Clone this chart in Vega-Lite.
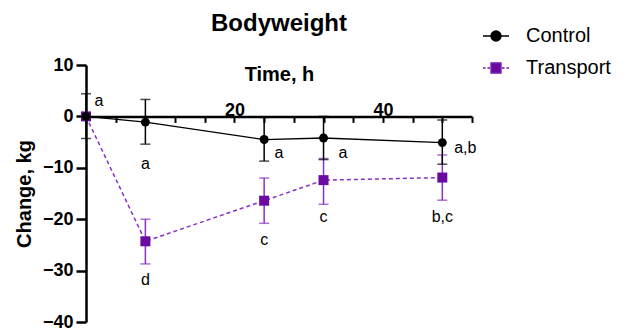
{
  "$schema": "https://vega.github.io/schema/vega-lite/v6.json",
  "width": 386,
  "height": 257,
  "autosize": {"type": "none"},
  "padding": {"left": 86, "top": 65, "right": 158, "bottom": 9},
  "config": {"view": {"stroke": null}, "font": "Liberation Sans"},
  "title": {"text": "Bodyweight", "fontSize": 24, "fontWeight": "bold", "color": "#000000", "anchor": "middle", "offset": -14},
  "datasets": {
    "series": [
      {"group": "Control", "time": 0, "mean": 0, "lo": -4.3, "hi": 4.4},
      {"group": "Control", "time": 8, "mean": -1.1, "lo": -5.4, "hi": 3.3},
      {"group": "Control", "time": 24, "mean": -4.5, "lo": -8.7, "hi": -0.2},
      {"group": "Control", "time": 32, "mean": -4.2, "lo": -8.4, "hi": 0.0},
      {"group": "Control", "time": 48, "mean": -5.1, "lo": -9.3, "hi": -0.7},
      {"group": "Transport", "time": 0, "mean": 0, "lo": 0, "hi": 0},
      {"group": "Transport", "time": 8, "mean": -24.3, "lo": -28.7, "hi": -20.0},
      {"group": "Transport", "time": 24, "mean": -16.4, "lo": -20.8, "hi": -12.0},
      {"group": "Transport", "time": 32, "mean": -12.4, "lo": -17.1, "hi": -8.2},
      {"group": "Transport", "time": 48, "mean": -11.9, "lo": -16.3, "hi": -7.5}
    ],
    "labels": [
      {"time": 1.75, "value": 2.9, "label": "a"},
      {"time": 8, "value": -9.3, "label": "a"},
      {"time": 26.0, "value": -7.1, "label": "a"},
      {"time": 34.6, "value": -7.1, "label": "a"},
      {"time": 51.1, "value": -6.2, "label": "a,b"},
      {"time": 8, "value": -31.9, "label": "d"},
      {"time": 24, "value": -24.1, "label": "c"},
      {"time": 32, "value": -19.6, "label": "c"},
      {"time": 48, "value": -19.6, "label": "b,c"}
    ]
  },
  "encoding": {
    "x": {
      "field": "time", "type": "quantitative", "title": "Time, h",
      "scale": {"domain": [0, 52], "nice": false, "zero": false},
      "axis": {
        "orient": "top", "offset": -51.4, "title": "Time, h",
        "values": [0, 4, 8, 12, 16, 20, 24, 28, 32, 36, 40, 44, 48, 52],
        "labelExpr": "datum.value == 20 || datum.value == 40 ? datum.label : ''",
        "labelOverlap": false, "labelBound": false, "labelFlush": false,
        "grid": false, "domainColor": "#000000", "domainWidth": 2.5,
        "tickColor": "#000000", "tickWidth": 2, "tickSize": -6,
        "labelFontSize": 18, "labelFontWeight": "bold", "labelColor": "#000000", "labelPadding": 3,
        "titleFontSize": 20, "titleFontWeight": "bold", "titleColor": "#000000", "titlePadding": 17
      }
    },
    "y": {
      "field": "mean", "type": "quantitative", "title": "Change, kg",
      "scale": {"domain": [-40, 10], "nice": false, "zero": false},
      "axis": {
        "title": "Change, kg",
        "values": [-40, -30, -20, -10, 0, 10],
        "labelOverlap": false, "labelBound": false, "labelFlush": false,
        "grid": false, "domainColor": "#000000", "domainWidth": 2.5,
        "tickColor": "#000000", "tickWidth": 2.5, "tickSize": 10,
        "labelFontSize": 18, "labelFontWeight": "bold", "labelColor": "#000000", "labelPadding": 3,
        "titleFontSize": 20, "titleFontWeight": "bold", "titleColor": "#000000", "titlePadding": 8
      }
    }
  },
  "layer": [
    {
      "data": {"name": "series"},
      "transform": [{"filter": "datum.group === 'Transport'"}],
      "mark": {"type": "line", "color": "#8a2fc7", "strokeWidth": 1.5, "strokeDash": [4, 3]}
    },
    {
      "data": {"name": "series"},
      "transform": [{"filter": "datum.group === 'Transport' && datum.hi > datum.lo"}],
      "mark": {"type": "rule", "color": "#8a2fc7", "strokeWidth": 1.5},
      "encoding": {
        "y": {
          "field": "lo", "type": "quantitative", "title": "Change, kg",
          "scale": {"domain": [-40, 10], "nice": false, "zero": false},
          "axis": {
            "title": "Change, kg",
            "values": [-40, -30, -20, -10, 0, 10],
            "labelOverlap": false, "labelBound": false, "labelFlush": false,
            "grid": false, "domainColor": "#000000", "domainWidth": 2.5,
            "tickColor": "#000000", "tickWidth": 2.5, "tickSize": 10,
            "labelFontSize": 18, "labelFontWeight": "bold", "labelColor": "#000000", "labelPadding": 3,
            "titleFontSize": 20, "titleFontWeight": "bold", "titleColor": "#000000", "titlePadding": 8
          }
        },
        "y2": {"field": "hi"}
      }
    },
    {
      "data": {"name": "series"},
      "transform": [{"filter": "datum.group === 'Transport' && datum.hi > datum.lo"}],
      "mark": {"type": "tick", "orient": "horizontal", "color": "#8a2fc7", "size": 10, "thickness": 1.5},
      "encoding": {
        "y": {
          "field": "lo", "type": "quantitative", "title": "Change, kg",
          "scale": {"domain": [-40, 10], "nice": false, "zero": false},
          "axis": {
            "title": "Change, kg",
            "values": [-40, -30, -20, -10, 0, 10],
            "labelOverlap": false, "labelBound": false, "labelFlush": false,
            "grid": false, "domainColor": "#000000", "domainWidth": 2.5,
            "tickColor": "#000000", "tickWidth": 2.5, "tickSize": 10,
            "labelFontSize": 18, "labelFontWeight": "bold", "labelColor": "#000000", "labelPadding": 3,
            "titleFontSize": 20, "titleFontWeight": "bold", "titleColor": "#000000", "titlePadding": 8
          }
        }
      }
    },
    {
      "data": {"name": "series"},
      "transform": [{"filter": "datum.group === 'Transport' && datum.hi > datum.lo"}],
      "mark": {"type": "tick", "orient": "horizontal", "color": "#8a2fc7", "size": 10, "thickness": 1.5},
      "encoding": {
        "y": {
          "field": "hi", "type": "quantitative", "title": "Change, kg",
          "scale": {"domain": [-40, 10], "nice": false, "zero": false},
          "axis": {
            "title": "Change, kg",
            "values": [-40, -30, -20, -10, 0, 10],
            "labelOverlap": false, "labelBound": false, "labelFlush": false,
            "grid": false, "domainColor": "#000000", "domainWidth": 2.5,
            "tickColor": "#000000", "tickWidth": 2.5, "tickSize": 10,
            "labelFontSize": 18, "labelFontWeight": "bold", "labelColor": "#000000", "labelPadding": 3,
            "titleFontSize": 20, "titleFontWeight": "bold", "titleColor": "#000000", "titlePadding": 8
          }
        }
      }
    },
    {
      "data": {"name": "series"},
      "transform": [{"filter": "datum.group === 'Transport'"}],
      "mark": {"type": "point", "shape": "square", "filled": true, "size": 100, "color": "#6a0a9e", "opacity": 1}
    },
    {
      "data": {"name": "series"},
      "transform": [{"filter": "datum.group === 'Control'"}],
      "mark": {"type": "line", "color": "#000000", "strokeWidth": 1.3}
    },
    {
      "data": {"name": "series"},
      "transform": [{"filter": "datum.group === 'Control'"}],
      "mark": {"type": "rule", "color": "#000000", "strokeWidth": 1.5},
      "encoding": {
        "y": {
          "field": "lo", "type": "quantitative", "title": "Change, kg",
          "scale": {"domain": [-40, 10], "nice": false, "zero": false},
          "axis": {
            "title": "Change, kg",
            "values": [-40, -30, -20, -10, 0, 10],
            "labelOverlap": false, "labelBound": false, "labelFlush": false,
            "grid": false, "domainColor": "#000000", "domainWidth": 2.5,
            "tickColor": "#000000", "tickWidth": 2.5, "tickSize": 10,
            "labelFontSize": 18, "labelFontWeight": "bold", "labelColor": "#000000", "labelPadding": 3,
            "titleFontSize": 20, "titleFontWeight": "bold", "titleColor": "#000000", "titlePadding": 8
          }
        },
        "y2": {"field": "hi"}
      }
    },
    {
      "data": {"name": "series"},
      "transform": [{"filter": "datum.group === 'Control'"}],
      "mark": {"type": "tick", "orient": "horizontal", "color": "#000000", "size": 10, "thickness": 1.5},
      "encoding": {
        "y": {
          "field": "lo", "type": "quantitative", "title": "Change, kg",
          "scale": {"domain": [-40, 10], "nice": false, "zero": false},
          "axis": {
            "title": "Change, kg",
            "values": [-40, -30, -20, -10, 0, 10],
            "labelOverlap": false, "labelBound": false, "labelFlush": false,
            "grid": false, "domainColor": "#000000", "domainWidth": 2.5,
            "tickColor": "#000000", "tickWidth": 2.5, "tickSize": 10,
            "labelFontSize": 18, "labelFontWeight": "bold", "labelColor": "#000000", "labelPadding": 3,
            "titleFontSize": 20, "titleFontWeight": "bold", "titleColor": "#000000", "titlePadding": 8
          }
        }
      }
    },
    {
      "data": {"name": "series"},
      "transform": [{"filter": "datum.group === 'Control'"}],
      "mark": {"type": "tick", "orient": "horizontal", "color": "#000000", "size": 10, "thickness": 1.5},
      "encoding": {
        "y": {
          "field": "hi", "type": "quantitative", "title": "Change, kg",
          "scale": {"domain": [-40, 10], "nice": false, "zero": false},
          "axis": {
            "title": "Change, kg",
            "values": [-40, -30, -20, -10, 0, 10],
            "labelOverlap": false, "labelBound": false, "labelFlush": false,
            "grid": false, "domainColor": "#000000", "domainWidth": 2.5,
            "tickColor": "#000000", "tickWidth": 2.5, "tickSize": 10,
            "labelFontSize": 18, "labelFontWeight": "bold", "labelColor": "#000000", "labelPadding": 3,
            "titleFontSize": 20, "titleFontWeight": "bold", "titleColor": "#000000", "titlePadding": 8
          }
        }
      }
    },
    {
      "data": {"name": "series"},
      "transform": [{"filter": "datum.group === 'Control'"}],
      "mark": {"type": "point", "shape": "circle", "filled": true, "size": 80, "color": "#000000", "opacity": 1}
    },
    {
      "data": {"name": "labels"},
      "mark": {"type": "text", "fontSize": 16, "color": "#000000", "align": "center", "baseline": "middle"},
      "encoding": {
        "y": {
          "field": "value", "type": "quantitative", "title": "Change, kg",
          "scale": {"domain": [-40, 10], "nice": false, "zero": false},
          "axis": {
            "title": "Change, kg",
            "values": [-40, -30, -20, -10, 0, 10],
            "labelOverlap": false, "labelBound": false, "labelFlush": false,
            "grid": false, "domainColor": "#000000", "domainWidth": 2.5,
            "tickColor": "#000000", "tickWidth": 2.5, "tickSize": 10,
            "labelFontSize": 18, "labelFontWeight": "bold", "labelColor": "#000000", "labelPadding": 3,
            "titleFontSize": 20, "titleFontWeight": "bold", "titleColor": "#000000", "titlePadding": 8
          }
        },
        "text": {"field": "label"}
      }
    },
    {
      "data": {"name": "series"},
      "transform": [{"filter": "false"}],
      "mark": {"type": "point", "filled": true, "size": 676, "strokeWidth": 1.5, "opacity": 1},
      "encoding": {
        "shape": {
          "field": "group", "type": "nominal",
          "scale": {"domain": ["Control", "Transport"], "range": ["M-1,0H1M-0.38,0A0.38,0.38,0,1,1,0.38,0A0.38,0.38,0,1,1,-0.38,0Z", "M-1,0H-0.8M-0.66,0H-0.46M0.46,0H0.66M0.8,0H1M-0.38,-0.38H0.38V0.38H-0.38Z"]},
          "legend": {
            "title": null, "orient": "none", "legendX": 396, "legendY": -43,
            "symbolSize": 676, "symbolStrokeWidth": 1.5, "symbolOpacity": 1,
            "labelFontSize": 20, "labelColor": "#000000", "labelOffset": 16, "rowPadding": 8, "padding": 0
          }
        },
        "fill": {"field": "group", "type": "nominal", "scale": {"domain": ["Control", "Transport"], "range": ["#000000", "#6a0a9e"]}},
        "stroke": {"field": "group", "type": "nominal", "scale": {"domain": ["Control", "Transport"], "range": ["#000000", "#7a1ab5"]}}
      }
    }
  ]
}
